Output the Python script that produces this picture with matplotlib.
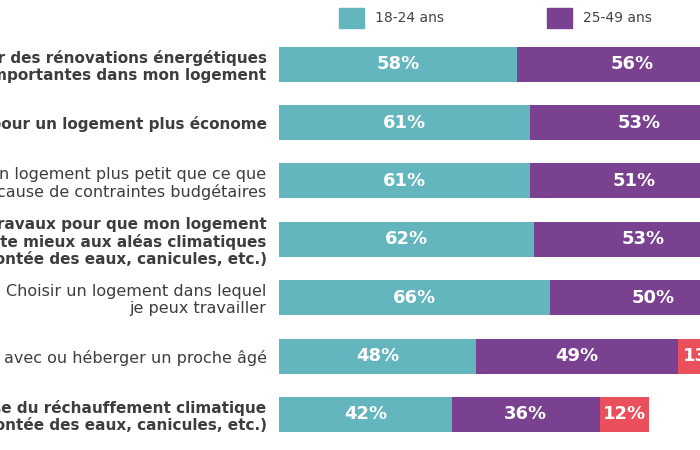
import numpy as np
import matplotlib.pyplot as plt
from matplotlib.patches import Patch

# Data (the right side of the original is cropped)
labels = [
    "Effectuer des rénovations énergétiques\nimportantes dans mon logement",
    "Déménager pour un logement plus économe",
    "Vivre dans un logement plus petit que ce que\nje souhaiterais à cause de contraintes budgétaires",
    "Faire des travaux pour que mon logement\ns'adapte mieux aux aléas climatiques\n(montée des eaux, canicules, etc.)",
    "Choisir un logement dans lequel\nje peux travailler",
    "Vivre avec ou héberger un proche âgé",
    "Déménager à cause du réchauffement climatique\n(montée des eaux, canicules, etc.)",
]
bold_rows = [True, True, False, True, False, False, True]
series_names = ["18-24 ans", "25-49 ans", "50 ans et plus"]
v_18_24 = [58, 61, 61, 62, 66, 48, 42]
v_25_49 = [56, 53, 51, 53, 50, 49, 36]
v_50_plus = [30, 28, 26, 33, 22, 13, 12]

colors = ["#63b5be", "#7a4191", "#e9505c"]

plt.rcParams['font.family'] = ['DejaVu Sans']

fig = plt.figure(figsize=(7, 4.5), dpi=100)
ax = fig.add_axes([0.3986, 0.0142, 0.6014, 0.908])

y = np.arange(len(labels))
left = np.zeros(len(labels))
for vals, name, col in zip([v_18_24, v_25_49, v_50_plus], series_names, colors):
    vals = np.array(vals)
    ax.barh(y, vals, left=left, height=0.6, color=col, label=name)
    for yi, l, v in zip(y, left, vals):
        ax.text(l + v / 2, yi, f"{v}%", ha='center', va='center',
                color='white', fontsize=13, fontweight='bold', clip_on=True)
    left = left + vals

ax.set_xlim(0, 102.4)
ax.set_ylim(6.5, -0.5)
ax.set_yticks(y)
ax.set_yticklabels(labels, color='#3d3d3d')
for t, b in zip(ax.get_yticklabels(), bold_rows):
    t.set_fontweight('bold' if b else 'normal')
    t.set_fontsize(11 if b else 11.5)
    t.set_linespacing(1.15)
ax.tick_params(axis='y', length=0, pad=9)
ax.set_xticks([])
for s in ax.spines.values():
    s.set_visible(False)

handles = [Patch(color=c) for c in colors]
fig.legend(handles, series_names, loc='upper left', bbox_to_anchor=(0.466, 1.01),
           ncol=3, frameon=False, fontsize=10, handlelength=1.8, handleheight=1.8,
           handletextpad=0.8, columnspacing=7.4, labelcolor='#444444')

fig.savefig("out.png", dpi=100)
